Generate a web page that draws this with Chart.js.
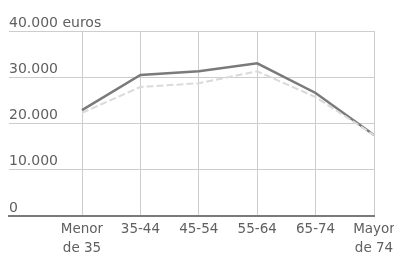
<!DOCTYPE html>
<html>
<head>
<meta charset="utf-8">
<script src="https://cdn.jsdelivr.net/npm/chart.js@4/dist/chart.umd.min.js"></script>
<style>
  html, body { margin: 0; padding: 0; background: #fff; }
  #wrap { width: 394px; height: 258px; }
</style>
</head>
<body>
<div id="wrap"><canvas id="chart"></canvas></div>
<script>
// age groups on the x axis
const categories = [["Menor", "de 35"], "35-44", "45-54", "55-64", "65-74", ["Mayor", "de 74"]];
// dark series and the faint dashed series (euros)
const darkValues = [22900, 30500, 31300, 33000, 26600, 17500];
const lightValues = [22300, 27900, 28700, 31300, 25700, 17500];
const yTicks = [0, 10000, 20000, 30000, 40000];
const yTickLabels = ["0", "10.000", "20.000", "30.000", "40.000 euros"];

const toPoints = (vals) => vals.map((v, i) => ({ x: i, y: v }));

const textColor = "#606060";

new Chart(document.getElementById("chart"), {
    type: "line",
    data: {
        datasets: [
            {
                data: toPoints(lightValues),
                borderColor: "#dadada",
                borderWidth: 2,
                borderDash: [7, 3],
                pointRadius: 0,
                tension: 0,
            },
            {
                data: toPoints(darkValues),
                borderColor: "#7a7a7a",
                borderWidth: 2.5,
                pointRadius: 0,
                tension: 0,
            },
        ],
    },
    options: {
        responsive: true,
        maintainAspectRatio: false,
        animation: false,
        layout: { padding: { left: 9, right: 20, top: 31, bottom: 0 } },
        plugins: { legend: { display: false }, tooltip: { enabled: false } },
        scales: {
            x: {
                type: "linear",
                min: -1.25,
                max: 5,
                afterBuildTicks: (scale) => {
                    scale.ticks = categories.map((c, i) => ({ value: i }));
                },
                afterFit: (scale) => {
                    scale.height = 42;
                    scale.paddingLeft = 0;
                    scale.paddingRight = 0;
                },
                grid: { color: "#cdcdcd", lineWidth: 1, drawTicks: false },
                border: { color: "#7a7a7a", width: 2 },
                ticks: {
                    color: textColor,
                    font: { family: "DejaVu Sans", size: 13.5, lineHeight: 1.4 },
                    padding: 4,
                    maxRotation: 0,
                    autoSkip: false,
                    callback: (v) => categories[v],
                },
            },
            y: {
                min: 0,
                max: 40000,
                afterBuildTicks: (scale) => {
                    scale.ticks = yTicks.map((v) => ({ value: v }));
                },
                afterFit: (scale) => { scale.width = 0; },
                grid: { color: "#cdcdcd", lineWidth: 1, drawTicks: false },
                border: { display: false },
                ticks: {
                    mirror: true,
                    padding: 0,
                    labelOffset: -8,
                    color: textColor,
                    font: { family: "DejaVu Sans", size: 14 },
                    callback: (v) => yTickLabels[yTicks.indexOf(v)],
                },
            },
        },
    },
});
</script>
</body>
</html>
